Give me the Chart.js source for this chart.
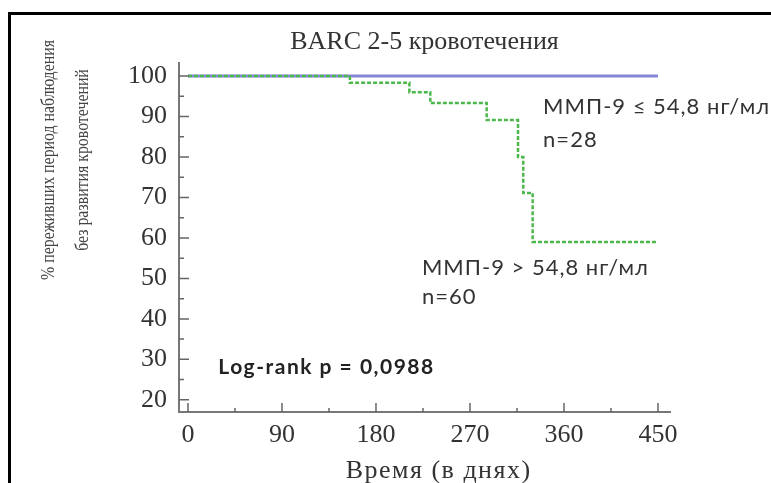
<!DOCTYPE html>
<html>
<head>
<meta charset="utf-8">
<script src="https://cdn.jsdelivr.net/npm/chart.js@4.4.1/dist/chart.umd.min.js"></script>
<style>
  html, body { margin: 0; padding: 0; background: #fff; overflow: hidden; }
  #wrap { position: relative; width: 771px; height: 483px; overflow: hidden; }
  #frame { position: absolute; left: 8px; top: 12px; width: 820px; height: 520px; border: 3px solid #000; pointer-events: none; }
</style>
</head>
<body>
<div id="wrap">
  <canvas id="kmChart" width="771" height="483"></canvas>
  <div id="frame"></div>
</div>
<script>
// Kaplan-Meier curves: days vs % without BARC 2-5 bleeding
const lowTimes = [0, 450];
const lowValues = [100, 100];
const highTimes = [0, 155, 212, 232, 286, 316, 321, 330, 450];
const highValues = [100, 98.3, 96.0, 93.3, 89.1, 80.0, 71.1, 59.0, 59.0];

const xTicks = [0, 90, 180, 270, 360, 450];
const yTicks = [20, 30, 40, 50, 60, 70, 80, 90, 100];

const lowLabel = ["ММП-9 ≤ 54,8 нг/мл", "n=28"];
const highLabel = ["ММП-9 > 54,8 нг/мл", "n=60"];
const pLabel = "Log-rank p = 0,0988";
const xTitle = "Время (в днях)";
const yTitle = ["% переживших период наблюдения", "без развития кровотечений"];

const toPoints = (xs, ys) => xs.map((x, i) => ({ x: x, y: ys[i] }));

// inward tick marks (major + minor halfway between)
const tickMarks = {
  id: "tickMarks",
  afterDatasetsDraw(chart) {
    const { ctx, chartArea: a, scales: { x, y } } = chart;
    ctx.save();
    ctx.strokeStyle = "#666";
    ctx.lineWidth = 1.5;
    ctx.beginPath();
    xTicks.forEach((v, i) => {
      const px = x.getPixelForValue(v);
      ctx.moveTo(px, a.bottom);
      ctx.lineTo(px, a.bottom - 9);
      if (i < xTicks.length - 1) {
        const mx = x.getPixelForValue((v + xTicks[i + 1]) / 2);
        ctx.moveTo(mx, a.bottom);
        ctx.lineTo(mx, a.bottom - 4);
      }
    });
    yTicks.forEach((v, i) => {
      const py = y.getPixelForValue(v);
      ctx.moveTo(a.left, py);
      ctx.lineTo(a.left + 10, py);
      if (i < yTicks.length - 1) {
        const my = y.getPixelForValue((v + yTicks[i + 1]) / 2);
        ctx.moveTo(a.left, my);
        ctx.lineTo(a.left + 5, my);
      }
    });
    ctx.stroke();
    ctx.restore();
  },
};

// group labels, p-value and the axis titles
const labels = {
  id: "labels",
  afterDraw(chart) {
    const { ctx, chartArea: a, scales: { x, y } } = chart;
    ctx.save();
    ctx.fillStyle = "#333";
    ctx.textBaseline = "middle";
    ctx.textAlign = "left";
    ctx.font = "22px Lato";
    ctx.letterSpacing = "1px";
    ctx.fillText(lowLabel[0], x.getPixelForValue(340), y.getPixelForValue(92.3));
    ctx.fillText(lowLabel[1], x.getPixelForValue(340), y.getPixelForValue(84.2));
    ctx.fillText(highLabel[0], x.getPixelForValue(224), y.getPixelForValue(52.6));
    ctx.fillText(highLabel[1], x.getPixelForValue(224), y.getPixelForValue(45.4));
    ctx.font = "bold 21px Lato";
    ctx.letterSpacing = "1.5px";
    ctx.fillStyle = "#222";
    ctx.fillText(pLabel, x.getPixelForValue(29), y.getPixelForValue(28.1));

    // x title, slightly spaced
    ctx.fillStyle = "#333";
    ctx.font = "26px 'Liberation Serif'";
    ctx.letterSpacing = "1.5px";
    ctx.textAlign = "center";
    ctx.textBaseline = "alphabetic";
    ctx.fillText(xTitle, x.getPixelForValue(240), a.bottom + 66);

    // y title, two rotated lines
    ctx.letterSpacing = "0px";
    ctx.fillStyle = "#444";
    ctx.font = "18px 'Liberation Serif'";
    ctx.textBaseline = "middle";
    ctx.translate(a.left - 130, a.top + 97);
    ctx.rotate(-Math.PI / 2);
    ctx.scale(0.88, 1);
    ctx.fillText(yTitle[0], 0, 0);
    ctx.fillText(yTitle[1], 0, 34);
    ctx.restore();
  },
};

const ctx = document.getElementById("kmChart").getContext("2d");
const kmChart = new Chart(ctx, {
  type: "line",
  data: {
    datasets: [
      {
        label: lowLabel[0],
        data: toPoints(lowTimes, lowValues),
        borderColor: "#8585d6",
        borderWidth: 3,
        pointRadius: 0,
        stepped: "before",
        order: 2,
      },
      {
        label: highLabel[0],
        data: toPoints(highTimes, highValues),
        borderColor: "#4cb84c",
        borderWidth: 2.5,
        borderDash: [4, 2],
        pointRadius: 0,
        stepped: "before",
        order: 1,
      },
    ],
  },
  options: {
    responsive: false,
    animation: false,
    layout: { padding: { top: 0, right: 101, bottom: 0, left: 0 } },
    plugins: {
      legend: { display: false },
      tooltip: { enabled: false },
      title: {
        display: true,
        text: "BARC 2-5 кровотечения",
        fullSize: false,
        color: "#333",
        font: { family: "'Liberation Serif'", size: 26, weight: "normal", lineHeight: 1.2 },
        padding: { top: 26.4, bottom: 5.4 },
      },
    },
    scales: {
      x: {
        type: "linear",
        min: -8.6,
        max: 461.5,
        afterFit: (s) => { s.height = 71; },
        afterBuildTicks: (s) => { s.ticks = xTicks.map((v) => ({ value: v })); },
        grid: { display: false, drawTicks: false },
        border: { display: true, color: "#777", width: 2 },
        ticks: {
          color: "#333",
          padding: 8,
          maxRotation: 0,
          font: { family: "'Liberation Serif'", size: 26 },
        },
      },
      y: {
        type: "linear",
        min: 17,
        max: 103.2,
        afterFit: (s) => { s.width = 179; },
        afterBuildTicks: (s) => { s.ticks = yTicks.map((v) => ({ value: v })); },
        grid: { display: false, drawTicks: false },
        border: { display: true, color: "#777", width: 2 },
        ticks: {
          color: "#333",
          padding: 12,
          font: { family: "'Liberation Serif'", size: 26 },
        },
      },
    },
  },
  plugins: [tickMarks, labels],
});
</script>
</body>
</html>
